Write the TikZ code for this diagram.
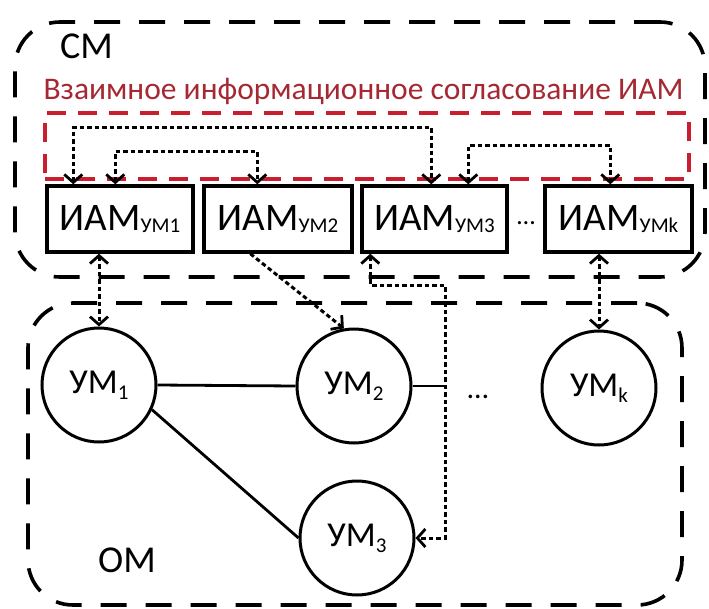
\documentclass[tikz,border=0pt]{standalone}
\usepackage{fontspec}
\setmainfont{Carlito}
\usetikzlibrary{arrows.meta,calc}
\definecolor{redtxt}{RGB}{165,40,50}
\definecolor{redline}{RGB}{200,30,45}
\newcommand\umsub[1]{\raisebox{-6pt}{\fontsize{21}{21}\selectfont #1}}
\newcommand\iamsub[1]{\raisebox{-2pt}{\fontsize{21}{21}\selectfont #1}}
\begin{document}
\begin{tikzpicture}[x=1pt,y=-1pt,
  groupbox/.style={draw, line width=3.6pt, dash pattern=on 26pt off 19pt, rounded corners=45pt, inner sep=0pt},
  redbox/.style={draw=redline, line width=3.6pt, dash pattern=on 19pt off 12pt, inner sep=0pt},
  iam/.style={draw, line width=3.4pt, minimum height=66pt, inner sep=0pt, font=\fontsize{39}{41}\selectfont},
  um/.style={draw, circle, line width=3pt, minimum size=114pt, inner sep=0pt, font=\fontsize{35}{37}\selectfont},
  bigtext/.style={font=\fontsize{38}{40}\selectfont, inner sep=0pt},
  link/.style={line width=2.8pt},
  dotlink/.style={line width=3pt, dash pattern=on 4.5pt off 3pt},
  tip/.tip={Straight Barb[length=8pt,width=18pt,line width=2.8pt]},
  onearrow/.style={dotlink, -tip},
  biarrow/.style={dotlink, tip-tip}]
\useasboundingbox (0,0) rectangle (709,608);

% containers
\node[groupbox, minimum width=690pt, minimum height=255pt] (cm) at (360,149.5) {};
\node[groupbox, minimum width=654pt, minimum height=302pt] (om) at (355,454) {};
\node[bigtext, anchor=base west] (cmlabel) at (60,58) {СМ};
\node[bigtext, anchor=base west] (omlabel) at (98,572) {ОМ};

% agreement area
\node[redbox, minimum width=644pt, minimum height=66pt] (agree) at (367,146) {};
\node[anchor=base, inner sep=0pt, text=redtxt, font=\fontsize{31.5}{33}\selectfont] (agreelabel) at (363.5,99) {Взаимное информационное согласование ИАМ};

% IAM boxes
\node[iam, minimum width=146pt] (box1) at (120,219) {ИАМ\iamsub{УМ1}};
\node[iam, minimum width=148pt] (box2) at (278,219) {ИАМ\iamsub{УМ2}};
\node[iam, minimum width=145pt] (box3) at (434.5,219) {ИАМ\iamsub{УМ3}};
\node[iam, minimum width=147pt] (boxk) at (618.5,219) {ИАМ\iamsub{УМk}};
\node[anchor=base, inner sep=0pt, font=\fontsize{26}{28}\selectfont] (dotsTop) at (526,224) {…};

% UM circles
\node[um] (c1) at (99,385) {УМ\umsub{1}};
\node[um] (c2) at (354,386) {УМ\umsub{2}};
\node[um] (c3) at (357,538) {УМ\umsub{3}};
\node[um] (ck) at (599,388) {УМ\umsub{k}};
\node[anchor=base, inner sep=0pt, font=\fontsize{30}{32}\selectfont] (dotsMid) at (478,398) {…};

% solid links
\draw[link] (c1.east) -- (c2.west);
\draw[link] (c1.-25) -- (c3.west);
\coordinate (j3) at (445,285);
\draw[link] (c2.east) -- (c2.east -| j3);

% top mutual arrows
\draw[biarrow] ($(box1.north west)+(28,0)$) -- ++(0,-57) -| ($(box3.north west)+(71,0)$);
\draw[biarrow] ($(box1.north west)+(70,0)$) -- ++(0,-33) -| ($(box2.north west)+(55,0)$);
\draw[biarrow] ($(box3.north west)+(108,0)$) -- ++(0,-39) -| ($(boxk.north west)+(67,0)$);

% bottom arrows
\draw[biarrow] (c1.north |- box1.south) -- (c1.north);
\draw[onearrow] ($(box2.south west)+(48,0)$) -- (c2.100);
\draw[biarrow] ($(box3.south west)+(10,0)$) |- (j3) |- (c3.east);
\draw[biarrow] (ck.north |- boxk.south) -- (ck.north);
\end{tikzpicture}
\end{document}
